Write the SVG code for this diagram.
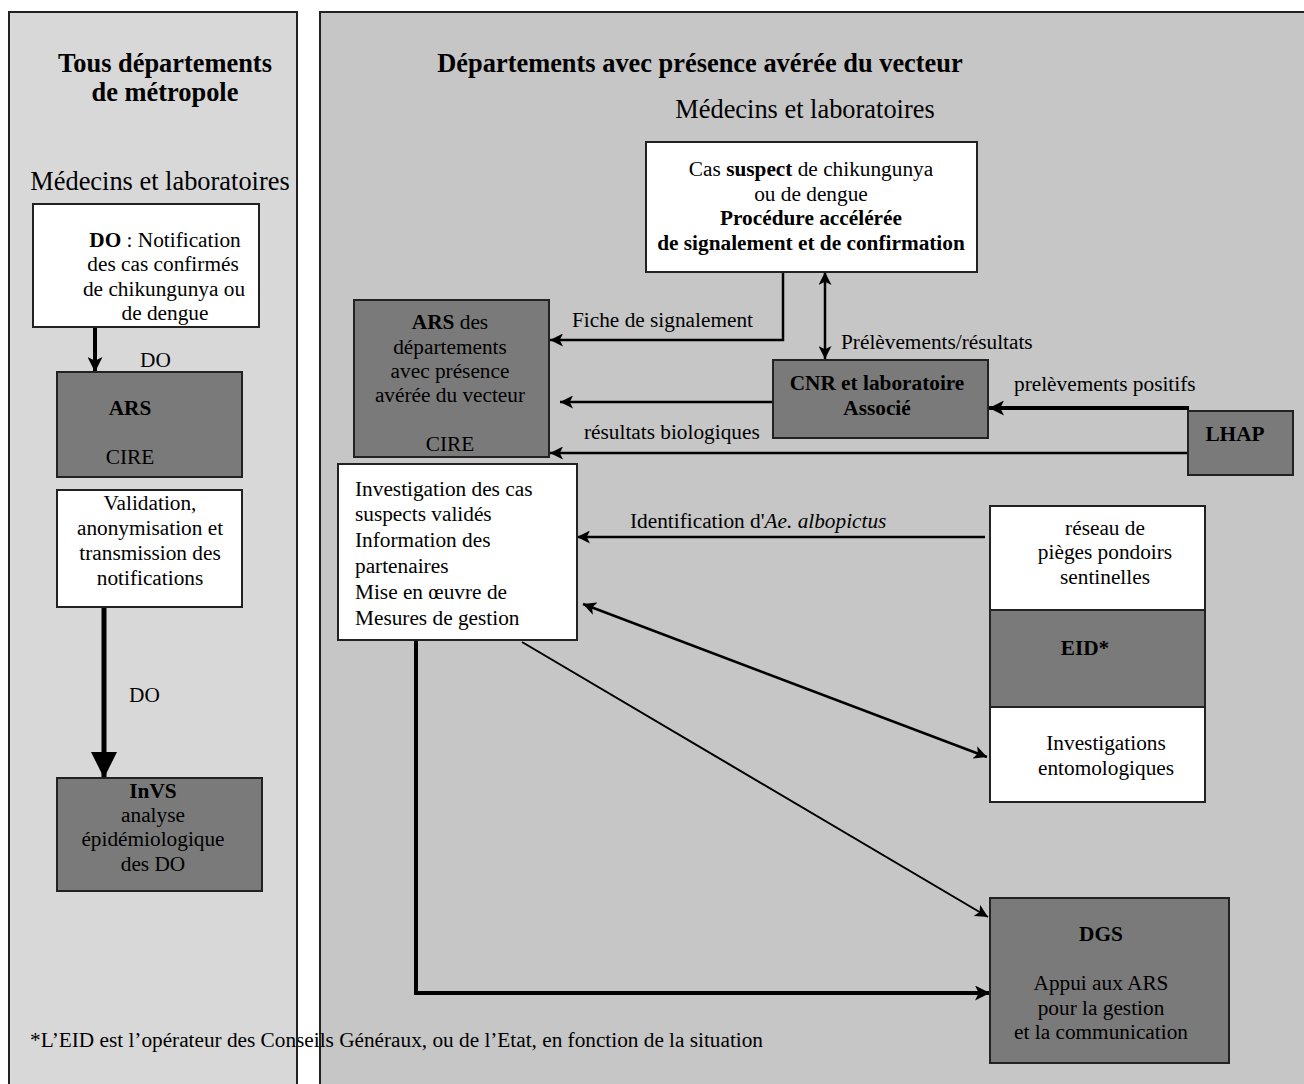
<svg xmlns="http://www.w3.org/2000/svg" width="1304" height="1084" viewBox="0 0 1304 1084">
<defs>
<marker id="ah" viewBox="0 0 12 12" refX="12" refY="6" markerWidth="13" markerHeight="13" markerUnits="userSpaceOnUse" orient="auto-start-reverse"><path d="M0,0 L12,6 L0,12 L3,6 z" fill="#000"/></marker>
<marker id="ahm" viewBox="0 0 12 12" refX="12" refY="6" markerWidth="15" markerHeight="15" markerUnits="userSpaceOnUse" orient="auto-start-reverse"><path d="M0,0 L12,6 L0,12 L3,6 z" fill="#000"/></marker>
<marker id="ahb" viewBox="0 0 12 12" refX="12" refY="6" markerWidth="26" markerHeight="26" markerUnits="userSpaceOnUse" orient="auto"><path d="M0,0 L12,6 L0,12 z" fill="#000"/></marker>
</defs>
<style>
text{font-family:"Liberation Serif","Times New Roman",serif;fill:#000}
.t20{font-size:21.3px}
.t24{font-size:26.4px}
.c{text-anchor:middle}
.b{font-weight:bold}
.white{fill:#fff;stroke:#222;stroke-width:2}
.gray{fill:#7a7a7a;stroke:#222;stroke-width:2}
.ln{fill:none;stroke:#000;stroke-width:2.5}
.lnt{fill:none;stroke:#000;stroke-width:4}
</style>
<rect width="1304" height="1084" fill="#fff"/>
<g id="panels">
<rect x="9" y="12" width="288" height="1090" fill="#d8d8d8" stroke="#222" stroke-width="2"/>
<rect x="320" y="12" width="1000" height="1090" fill="#c6c6c6" stroke="#222" stroke-width="2"/>
</g>
<g id="headings">
<text class="t24 b c" x="165" y="72">Tous départements</text>
<text class="t24 b c" x="165" y="101">de métropole</text>
<text class="t24 c" x="160" y="190">Médecins et laboratoires</text>
<text class="t24 b c" x="700" y="72">Départements avec présence avérée du vecteur</text>
<text class="t24 c" x="805" y="118">Médecins et laboratoires</text>
</g>
<g id="connectors">
<line class="lnt" x1="95" y1="327" x2="95" y2="372" marker-end="url(#ahm)"/>
<line x1="104" y1="607" x2="104" y2="778" stroke="#000" stroke-width="5" marker-end="url(#ahb)"/>
<polyline class="ln" points="783,272 783,340 550,340" marker-end="url(#ah)"/>
<line class="ln" x1="825" y1="272" x2="825" y2="359" marker-start="url(#ah)" marker-end="url(#ah)"/>
<line class="ln" x1="773" y1="402" x2="560" y2="402" marker-end="url(#ah)"/>
<line class="lnt" x1="1189" y1="408" x2="989" y2="408" marker-end="url(#ahm)"/>
<line class="ln" x1="1188" y1="453" x2="550" y2="453" marker-end="url(#ah)"/>
<line class="ln" x1="985" y1="537" x2="577" y2="537" marker-end="url(#ah)"/>
<line class="ln" x1="583" y1="604" x2="987" y2="757" marker-start="url(#ah)" marker-end="url(#ah)"/>
<line x1="522" y1="642" x2="988" y2="917" stroke="#000" stroke-width="2" marker-end="url(#ah)"/>
<polyline class="lnt" points="416,632 416,993 990,993" marker-end="url(#ahm)"/>
</g>
<g id="labels">
<text class="t20" x="140" y="367">DO</text>
<text class="t20" x="129" y="702">DO</text>
<text class="t20" x="572" y="327">Fiche de signalement</text>
<text class="t20" x="841" y="349">Prélèvements/résultats</text>
<text class="t20" x="1014" y="391">prelèvements positifs</text>
<text class="t20" x="584" y="439">résultats biologiques</text>
<text class="t20" x="630" y="528">Identification d'<tspan font-style="italic">Ae. albopictus</tspan></text>
</g>
<g id="node-do">
<rect class="white" x="33" y="204" width="226" height="123"/>
<text class="t20 c" x="165" y="247"><tspan font-weight="bold">DO</tspan> : Notification</text>
<text class="t20 c" x="163" y="271">des cas confirmés</text>
<text class="t20 c" x="164" y="296">de chikungunya ou</text>
<text class="t20 c" x="165" y="320">de dengue</text>
</g>
<g id="node-ars-left">
<rect class="gray" x="57" y="372" width="185" height="105"/>
<text class="t20 b c" x="130" y="415">ARS</text>
<text class="t20 c" x="130" y="464">CIRE</text>
</g>
<g id="node-validation">
<rect class="white" x="57" y="490" width="185" height="117"/>
<text class="t20 c" x="150" y="510">Validation,</text>
<text class="t20 c" x="150" y="535">anonymisation et</text>
<text class="t20 c" x="150" y="560">transmission des</text>
<text class="t20 c" x="150" y="585">notifications</text>
</g>
<g id="node-invs">
<rect class="gray" x="57" y="778" width="205" height="113"/>
<text class="t20 b c" x="153" y="798">InVS</text>
<text class="t20 c" x="153" y="822">analyse</text>
<text class="t20 c" x="153" y="846">épidémiologique</text>
<text class="t20 c" x="153" y="871">des DO</text>
</g>
<g id="node-suspect">
<rect class="white" x="646" y="142" width="331" height="130"/>
<text class="t20 c" x="811" y="176">Cas <tspan font-weight="bold">suspect</tspan> de chikungunya</text>
<text class="t20 c" x="811" y="201">ou de dengue</text>
<text class="t20 b c" x="811" y="225">Procédure accélérée</text>
<text class="t20 b c" x="811" y="250">de signalement et de confirmation</text>
</g>
<g id="node-ars-right">
<rect class="gray" x="354" y="300" width="195" height="157"/>
<text class="t20 c" x="450" y="329"><tspan font-weight="bold">ARS</tspan> des</text>
<text class="t20 c" x="450" y="354">départements</text>
<text class="t20 c" x="450" y="378">avec présence</text>
<text class="t20 c" x="450" y="402">avérée du vecteur</text>
<text class="t20 c" x="450" y="451">CIRE</text>
</g>
<g id="node-cnr">
<rect class="gray" x="773" y="360" width="215" height="78"/>
<text class="t20 b c" x="877" y="390">CNR et laboratoire</text>
<text class="t20 b c" x="877" y="415">Associé</text>
</g>
<g id="node-lhap">
<rect class="gray" x="1188" y="411" width="105" height="64"/>
<text class="t20 b c" x="1235" y="441">LHAP</text>
</g>
<g id="node-investigation">
<rect class="white" x="338" y="464" width="239" height="176"/>
<text class="t20" x="355" y="496">Investigation des cas</text>
<text class="t20" x="355" y="521">suspects validés</text>
<text class="t20" x="355" y="547">Information des</text>
<text class="t20" x="355" y="573">partenaires</text>
<text class="t20" x="355" y="599">Mise en œuvre de</text>
<text class="t20" x="355" y="625">Mesures de gestion</text>
</g>
<g id="node-eid">
<rect class="white" x="990" y="506" width="215" height="104"/>
<rect class="gray" x="990" y="610" width="215" height="97"/>
<rect class="white" x="990" y="707" width="215" height="95"/>
<text class="t20 c" x="1105" y="535">réseau de</text>
<text class="t20 c" x="1105" y="559">pièges pondoirs</text>
<text class="t20 c" x="1105" y="584">sentinelles</text>
<text class="t20 b c" x="1085" y="655">EID*</text>
<text class="t20 c" x="1106" y="750">Investigations</text>
<text class="t20 c" x="1106" y="775">entomologiques</text>
</g>
<g id="node-dgs">
<rect class="gray" x="990" y="898" width="239" height="165"/>
<text class="t20 b c" x="1101" y="941">DGS</text>
<text class="t20 c" x="1101" y="990">Appui aux ARS</text>
<text class="t20 c" x="1101" y="1015">pour la gestion</text>
<text class="t20 c" x="1101" y="1039">et la communication</text>
</g>
<g id="footnote">
<text class="t20" x="30" y="1047" textLength="733">*L’EID est l’opérateur des Conseils Généraux, ou de l’Etat, en fonction de la situation</text>
<line x1="297" y1="1020" x2="297" y2="1084" stroke="#222" stroke-width="2"/>
</g>
</svg>
